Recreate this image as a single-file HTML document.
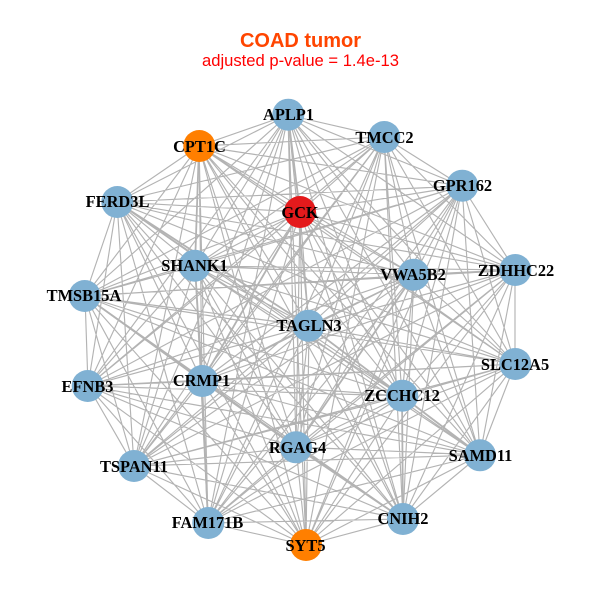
<!DOCTYPE html>
<html><head><meta charset="utf-8"><style>
html,body{margin:0;padding:0;background:#fff}
svg{display:block}
.l{font:bold 16.4px "Liberation Serif",serif;fill:#000;text-anchor:middle}
</style></head><body>
<svg width="600" height="600" viewBox="0 0 600 600" xmlns="http://www.w3.org/2000/svg">
<rect width="600" height="600" fill="#fff"/>
<text x="300.5" y="47" text-anchor="middle" style="font:bold 20px 'Liberation Sans',sans-serif" fill="#ff4500">COAD tumor</text>
<text x="300.5" y="66" text-anchor="middle" style="font:16.6px 'Liberation Sans',sans-serif" fill="#ff0000">adjusted p-value = 1.4e-13</text>
<g fill="none" stroke="#b3b3b3" stroke-linejoin="round">
<path stroke-width="1.15" d="
M288 115 384 137 288 115 462 186 288 115 515 270 288 115 515 364 288 115 480 455 288 115 403 519 288 115 306 545 288 115 208 523 288 115 134 466 288 115 88 386 288 115 85 296 288 115 117 202 288 115 199 146 288 115 195 266 288 115 414 275 288 115 309 326 288 115 202 381 288 115 402 396 288 115 296 447
M384 137 462 186 384 137 515 270 384 137 515 364 384 137 480 455 384 137 403 519 384 137 306 545 384 137 208 523 384 137 134 466 384 137 88 386 384 137 85 296 384 137 117 202 384 137 199 146 384 137 300 212 384 137 195 266 384 137 414 275 384 137 309 326 384 137 202 381 384 137 402 396 384 137 296 447
M462 186 515 270 462 186 515 364 462 186 480 455 462 186 403 519 462 186 306 545 462 186 208 523 462 186 134 466 462 186 88 386 462 186 85 296 462 186 117 202 462 186 199 146 462 186 300 212 462 186 195 266 462 186 414 275 462 186 309 326 462 186 202 381 462 186 402 396 462 186 296 447
M515 270 515 364 515 270 480 455 515 270 403 519 515 270 306 545 515 270 208 523 515 270 134 466 515 270 88 386 515 270 85 296 515 270 117 202 515 270 199 146 515 270 300 212 515 270 195 266 515 270 309 326 515 270 202 381 515 270 402 396 515 270 296 447
M515 364 480 455 515 364 403 519 515 364 306 545 515 364 208 523 515 364 134 466 515 364 88 386 515 364 85 296 515 364 117 202 515 364 199 146 515 364 300 212 515 364 195 266 515 364 414 275 515 364 309 326 515 364 202 381 515 364 402 396 515 364 296 447
M480 455 403 519 480 455 306 545 480 455 208 523 480 455 134 466 480 455 88 386 480 455 85 296 480 455 117 202 480 455 199 146 480 455 300 212 480 455 195 266 480 455 414 275 480 455 309 326 480 455 202 381 480 455 296 447
M403 519 306 545 403 519 208 523 403 519 134 466 403 519 88 386 403 519 85 296 403 519 117 202 403 519 199 146 403 519 300 212 403 519 195 266 403 519 414 275 403 519 309 326 403 519 202 381
M306 545 208 523 306 545 134 466 306 545 88 386 306 545 85 296 306 545 117 202 306 545 199 146 306 545 300 212 306 545 195 266 306 545 414 275 306 545 309 326 306 545 202 381 306 545 402 396 306 545 296 447
M208 523 134 466 208 523 88 386 208 523 85 296 208 523 117 202 208 523 199 146 208 523 300 212 208 523 195 266 208 523 414 275 208 523 309 326 208 523 402 396 208 523 296 447
M134 466 88 386 134 466 85 296 134 466 117 202 134 466 199 146 134 466 300 212 134 466 195 266 134 466 414 275 134 466 309 326 134 466 202 381 134 466 402 396 134 466 296 447
M88 386 85 296 88 386 117 202 88 386 199 146 88 386 300 212 88 386 195 266 88 386 414 275 88 386 309 326 88 386 202 381 88 386 402 396 88 386 296 447
M85 296 117 202 85 296 199 146 85 296 300 212 85 296 195 266 85 296 414 275 85 296 309 326 85 296 202 381 85 296 402 396
M117 202 199 146 117 202 300 212 117 202 195 266 117 202 414 275 117 202 202 381 117 202 402 396 117 202 296 447
M199 146 300 212 199 146 414 275 199 146 309 326 199 146 202 381 199 146 402 396 199 146 296 447
M300 212 195 266 300 212 414 275 300 212 309 326 300 212 402 396 300 212 296 447
M195 266 414 275 195 266 309 326 195 266 402 396 195 266 296 447
M414 275 309 326 414 275 202 381 414 275 402 396
M309 326 202 381 309 326 296 447
M202 381 402 396
M402 396 296 447"/>
<path stroke-width="1.8" d="
M288 115 300 212
M199 146 195 266
M195 266 202 381
M202 381 208 523
M85 296 296 447
M202 381 296 447
M296 447 403 519
M402 396 480 455
M402 396 403 519
M414 275 515 270
M117 202 309 326
M300 212 202 381
M309 326 402 396
M296 447 414 275"/>
</g>
<g stroke="none" fill="#80b1d3">
<circle cx="288.3" cy="114.7" r="16"/>
<circle cx="384.3" cy="137" r="16"/>
<circle cx="462.3" cy="185.7" r="16"/>
<circle cx="515.3" cy="270" r="16"/>
<circle cx="515.3" cy="364" r="16"/>
<circle cx="480" cy="455.3" r="16"/>
<circle cx="403" cy="519" r="16"/>
<circle cx="208.3" cy="523" r="16"/>
<circle cx="134" cy="466" r="16"/>
<circle cx="87.7" cy="386" r="16"/>
<circle cx="84.7" cy="296" r="16"/>
<circle cx="117.3" cy="202" r="16"/>
<circle cx="194.7" cy="265.7" r="16"/>
<circle cx="413.7" cy="274.7" r="16"/>
<circle cx="308.5" cy="325.7" r="16"/>
<circle cx="202.3" cy="381" r="16"/>
<circle cx="402.3" cy="395.7" r="16"/>
<circle cx="296" cy="447.3" r="16"/>
<circle cx="199.3" cy="146" r="16" fill="#ff7f00"/>
<circle cx="306" cy="545" r="16" fill="#ff7f00"/>
<circle cx="300" cy="212" r="16" fill="#e41a1c"/>
</g>
<g class="l">
<text class="l" x="288.5" y="120">APLP1</text>
<text class="l" x="384.5" y="143">TMCC2</text>
<text class="l" x="462.5" y="191">GPR162</text>
<text class="l" x="516" y="276">ZDHHC22</text>
<text class="l" x="515" y="370">SLC12A5</text>
<text class="l" x="480.500" y="461">SAMD11</text>
<text class="l" x="403" y="524">CNIH2</text>
<text class="l" x="305.500" y="551">SYT5</text>
<text class="l" x="207.500" y="528">FAM171B</text>
<text class="l" x="134" y="472">TSPAN11</text>
<text class="l" x="87.500" y="392">EFNB3</text>
<text class="l" x="84" y="301">TMSB15A</text>
<text class="l" x="117.500" y="207">FERD3L</text>
<text class="l" x="199.500" y="152">CPT1C</text>
<text class="l" x="300" y="218">GCK</text>
<text class="l" x="194.500" y="271">SHANK1</text>
<text class="l" x="413" y="280">VWA5B2</text>
<text class="l" x="309" y="331">TAGLN3</text>
<text class="l" x="201.500" y="386">CRMP1</text>
<text class="l" x="402" y="401">ZCCHC12</text>
<text class="l" x="297.500" y="453">RGAG4</text>
</g>
</svg>
</body></html>
